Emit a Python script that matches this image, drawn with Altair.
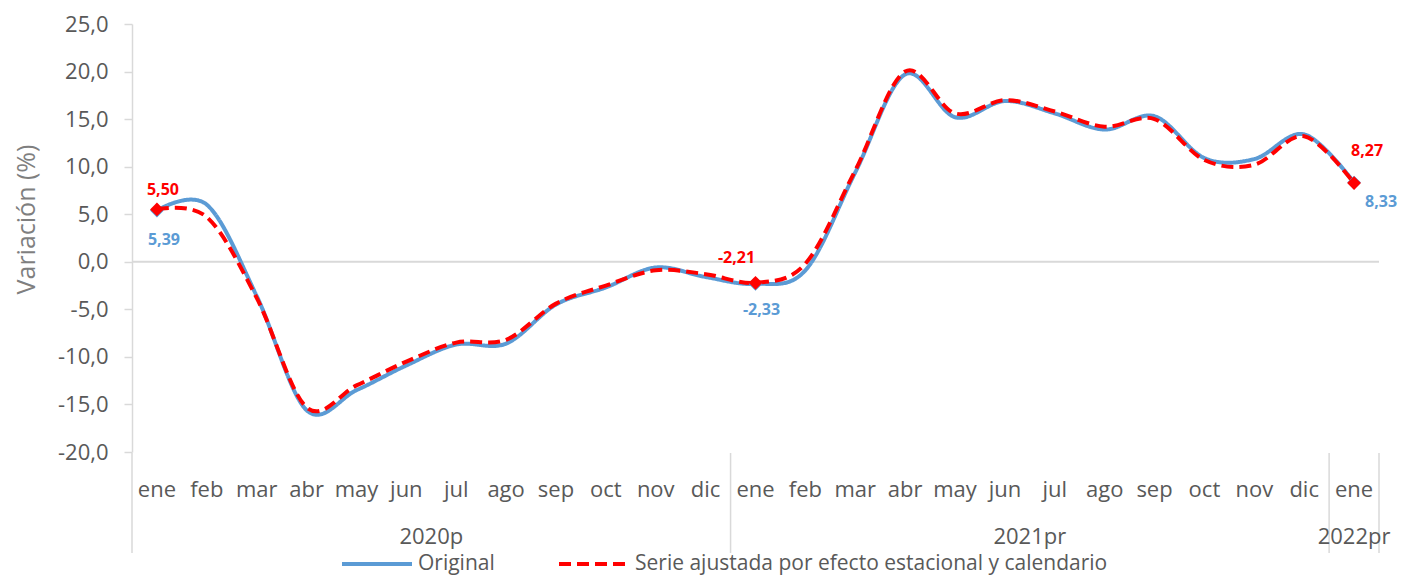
import altair as alt
import pandas as pd

# ---------------- data ----------------
months = ["ene", "feb", "mar", "abr", "may", "jun", "jul", "ago", "sep", "oct", "nov", "dic",
          "ene", "feb", "mar", "abr", "may", "jun", "jul", "ago", "sep", "oct", "nov", "dic",
          "ene"]
years = ["2020p"] * 12 + ["2021pr"] * 12 + ["2022pr"]
original = [5.39, 6.0, -3.6, -15.6, -13.5, -10.9, -8.7, -8.6, -4.5, -2.7, -0.6, -1.6,
            -2.33, -0.9, 9.4, 19.7, 15.2, 16.9, 15.6, 13.9, 15.3, 10.9, 10.8, 13.4,
            8.33]
ajustada = [5.50, 4.7, -3.8, -15.3, -13.0, -10.5, -8.5, -8.2, -4.4, -2.5, -0.9, -1.3,
            -2.21, -0.2, 9.6, 20.0, 15.6, 17.0, 15.8, 14.2, 15.0, 10.7, 10.2, 13.2,
            8.27]
labeled_idx = [0, 12, 24]
y_ticks = [-20, -15, -10, -5, 0, 5, 10, 15, 20, 25]

S_ORIG = "Original"
S_ADJ = "Serie ajustada por efecto estacional y calendario"
BLUE = "#5B9BD5"
RED = "#FF0000"
GRAY_TXT = "#595959"
GRID = "#D9D9D9"
FONT = "Open Sans"

n = len(months)
idx = list(range(n))
long_df = pd.DataFrame({
    "idx": idx * 2,
    "serie": [S_ORIG] * n + [S_ADJ] * n,
    "valor": original + ajustada,
})
base_df = pd.DataFrame({"idx": idx, "mes": months, "anio": years})

# year group boundaries (derived from the data)
bounds = [-0.5]
for y in dict.fromkeys(years):
    bounds.append(max(i for i, yy in zip(idx, years) if yy == y) + 0.5)
bounds_df = pd.DataFrame({"b": bounds})

W, H = 1247, 428

xscale = alt.Scale(domain=[-0.5, n - 0.5], nice=False, zero=False)
yscale = alt.Scale(domain=[-20, 25], nice=False, zero=False)
cscale = alt.Scale(domain=[S_ORIG, S_ADJ], range=[BLUE, RED])
dscale = alt.Scale(domain=[S_ORIG, S_ADJ], range=[[1, 0], [12, 6]])

yaxis = alt.Axis(
    values=y_ticks,
    labelExpr="(datum.value < 0 ? '-' : '') + replace(format(abs(datum.value), '.1f'), '.', ',')",
    title="Variación  (%)",
    titleFont=FONT, titleFontSize=25, titleFontWeight="normal", titleColor="#7F7F7F",
    titleAngle=270, titleX=-106, titleY=195, titleAlign="center", titleBaseline="middle",
    labelFont=FONT, labelFontSize=22, labelColor=GRAY_TXT, labelPadding=16,
    tickSize=8, tickColor=GRID, tickWidth=1.5,
    domainColor=GRID, domainWidth=1.5, grid=False,
)
X = alt.X("idx:Q", scale=xscale, axis=None)
Y = alt.Y("valor:Q", scale=yscale, axis=yaxis)

legend = alt.Legend(
    title=None, orient="none", legendX=208, legendY=503, direction="horizontal",
    symbolType="stroke", symbolSize=4900, symbolStrokeWidth=4,
    labelFont=FONT, labelFontSize=21, labelColor=GRAY_TXT, labelOffset=4, labelLimit=0,
    columnPadding=56, padding=0,
)

zero = alt.Chart(pd.DataFrame({"valor": [0]})).mark_rule(color=GRID, strokeWidth=2).encode(y=Y)

dividers = alt.Chart(bounds_df).mark_rule(color=GRID, strokeWidth=1.5).encode(
    x=alt.X("b:Q", scale=xscale, axis=None),
    y=alt.value(H + 1),
    y2=alt.value(H + 101),
)

lines = alt.Chart(long_df).mark_line(interpolate="cardinal", strokeWidth=4).encode(
    x=X, y=Y,
    color=alt.Color("serie:N", scale=cscale, legend=legend, sort=[S_ORIG, S_ADJ]),
    strokeDash=alt.StrokeDash("serie:N", scale=dscale, legend=legend, sort=[S_ORIG, S_ADJ]),
)

markers = alt.Chart(long_df).transform_filter(
    alt.FieldOneOfPredicate(field="idx", oneOf=labeled_idx)
).mark_point(shape="diamond", filled=True, size=190, opacity=1).encode(
    x=X, y=Y,
    color=alt.Color("serie:N", scale=cscale, legend=None),
)

label_expr = "(datum.valor < 0 ? '-' : '') + replace(format(abs(datum.valor), '.2f'), '.', ',')"
# (series, point) -> (dx, dy) label offsets
offsets = {
    (S_ADJ, 0): (6, -19), (S_ORIG, 0): (7, 29),
    (S_ADJ, 12): (-19, -25), (S_ORIG, 12): (6, 26),
    (S_ADJ, 24): (13, -32), (S_ORIG, 24): (27, 19),
}
label_layers = []
for (serie, i), (dx, dy) in offsets.items():
    label_layers.append(
        alt.Chart(long_df).transform_filter(
            (alt.datum.serie == serie) & (alt.datum.idx == i)
        ).transform_calculate(
            etiqueta=label_expr
        ).mark_text(
            font=FONT, fontSize=16, fontWeight="bold", dx=dx, dy=dy,
            color=BLUE if serie == S_ORIG else RED, baseline="middle", align="center",
        ).encode(x=X, y=Y, text="etiqueta:N")
    )

month_labels = alt.Chart(base_df).mark_text(
    font=FONT, fontSize=22, color=GRAY_TXT, baseline="middle", align="center"
).encode(x=X, y=alt.value(H + 38), text="mes:N")

year_labels = alt.Chart(base_df).mark_text(
    font=FONT, fontSize=22, color=GRAY_TXT, baseline="middle", align="center"
).encode(x=alt.X("mean(idx):Q", scale=xscale, axis=None), y=alt.value(H + 85), text="anio:N")

chart = alt.layer(
    zero, dividers, lines, markers, *label_layers, month_labels, year_labels
).properties(
    width=W, height=H,
    autosize=alt.AutoSizeParams(type="none"),
    padding={"left": 124, "top": 16, "right": 24, "bottom": 124},
    background="white",
).configure_view(stroke=None)

chart.save("out.html", embed_options={"renderer": "svg", "actions": False})
